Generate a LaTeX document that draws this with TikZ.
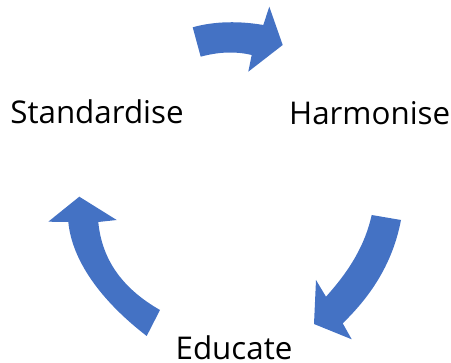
\documentclass[tikz,border=0pt]{standalone}
\usepackage{fontspec}
\usepackage{xcolor}
\setmainfont{Open Sans}
\definecolor{cycleblue}{HTML}{4472C4}

\begin{document}
\begin{tikzpicture}[x=0.75pt, y=-0.75pt,
        cyclearrow/.style={fill=cycleblue, draw=none},
        steplabel/.style={anchor=base, inner sep=0pt, font=\fontsize{23.5}{28}\selectfont}]
        \useasboundingbox (0,0) rectangle (451,363);

        \node[steplabel] (standardise) at (97,123.5) {Standardise};
        \node[steplabel] (harmonise) at (369.7,124.3) {Harmonise};
        \node[steplabel] (educate) at (234,359.3) {Educate};

        \fill[cyclearrow] (192.7,27.3) .. controls (215,21) and (240,21) .. (263.3,25)
            -- (269.3,6.7) -- (282.7,45) -- (248.3,71.7) -- (251.7,55)
            .. controls (235,51) and (218,52) .. (200.7,56.7) -- cycle;

        \fill[cyclearrow] (371.7,215) -- (401,220)
            .. controls (393,262) and (372,295) .. (342.7,323.3)
            -- (351.7,339.3) -- (314,324) -- (316,280) -- (326,296.7)
            .. controls (350,270) and (365,245) .. (371.7,215) -- cycle;

        \fill[cyclearrow] (160,310) -- (146.7,336)
            .. controls (100,300) and (72,260) .. (68.3,222)
            -- (48.3,221.7) -- (79.3,196.7) -- (116.7,220) -- (98.3,222)
            .. controls (102,262) and (125,290) .. (160,310) -- cycle;
    \end{tikzpicture}
\end{document}
